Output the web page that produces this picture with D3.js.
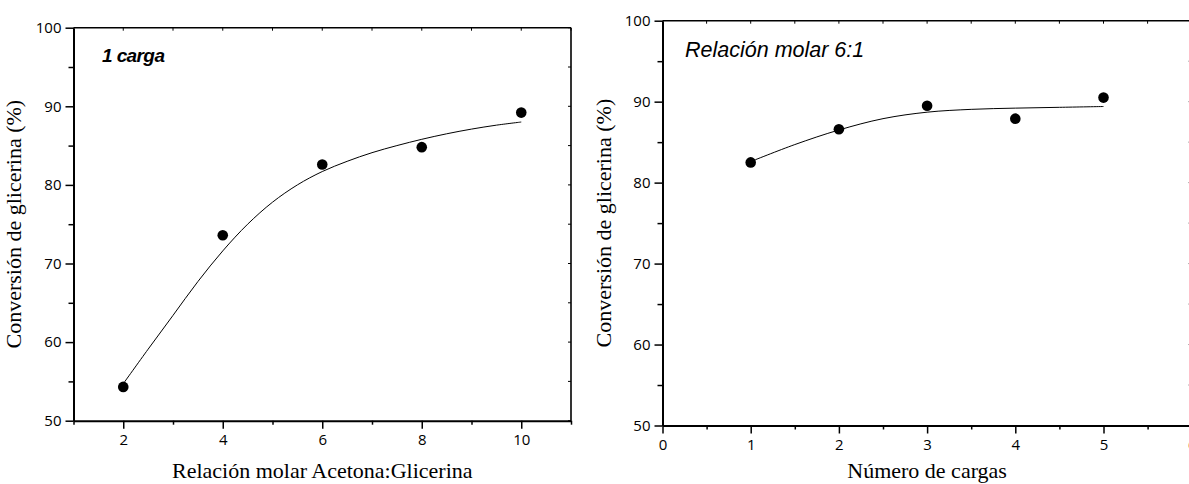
<!DOCTYPE html>
<html>
<head>
<meta charset="utf-8">
<script src="https://cdn.jsdelivr.net/npm/d3@7"></script>
<style>
  body { margin: 0; background: #fff; }
  svg { display: block; }
  .domain, .tick line { stroke: #000; }
  .title { font-family: "Liberation Serif", "Times New Roman", serif; font-size: 22px; fill: #000; }
</style>
</head>
<body>
<svg id="chart" width="1189" height="484"></svg>
<script>
// left panel: conversion vs molar ratio (1 load)
const ratioX = [2, 4, 6, 8, 10];
const ratioY = [54.3, 73.6, 82.6, 84.8, 89.2];
// fitted curve
const ratioFitX = [2, 2.5, 3, 3.5, 4, 4.5, 5, 5.5, 6, 6.5, 7, 7.5, 8, 8.5, 9, 9.5, 10];
const ratioFitY = [54.7, 59.1, 63.4, 67.7, 71.6, 75.0, 77.8, 80.0, 81.7, 83.0, 84.1, 85.0, 85.8, 86.5, 87.1, 87.6, 88.0];

// right panel: conversion vs number of loads (ratio 6:1)
const loadsX = [1, 2, 3, 4, 5];
const loadsY = [82.5, 86.6, 89.5, 87.9, 90.5];
const loadsFitX = [1, 1.5, 2, 2.5, 3, 3.5, 4, 4.5, 5];
const loadsFitY = [82.6, 84.7, 86.5, 87.9, 88.7, 89.05, 89.2, 89.3, 89.4];

const yTicks = [50, 60, 70, 80, 90, 100];
const yMinor = [55, 65, 75, 85, 95];
const ratioTicks = [2, 4, 6, 8, 10];
const ratioMinor = [1, 3, 5, 7, 9, 11];
const loadsTicks = [0, 1, 2, 3, 4, 5, 6];
const loadsMinor = [0.5, 1.5, 2.5, 3.5, 4.5, 5.5];

const svg = d3.select('#chart');

function panel(opt) {
  const x = d3.scaleLinear().domain(opt.xDomain).range(opt.xRange);
  const y = d3.scaleLinear().domain([50, 100]).range(opt.yRange);
  const g = svg.append('g');
  const [x0, x1] = opt.xRange;
  const [yb, yt] = opt.yRange;

  // frame top + right with small inward ticks
  g.append('line').attr('x1', x0).attr('x2', x1).attr('y1', yt).attr('y2', yt)
    .attr('stroke', '#000').attr('stroke-width', 1.6);
  g.append('line').attr('x1', x1).attr('x2', x1).attr('y1', yt).attr('y2', yb)
    .attr('stroke', '#000').attr('stroke-width', 1.6);
  g.selectAll('.ttick').data(opt.xTicks.concat(opt.xMinor)).enter().append('line')
    .attr('x1', d => x(d)).attr('x2', d => x(d)).attr('y1', yt).attr('y2', yt + 3)
    .attr('stroke', '#000').attr('stroke-width', 1);
  g.selectAll('.rtick').data(yTicks.concat(yMinor)).enter().append('line')
    .attr('x1', x1).attr('x2', x1 - 3).attr('y1', d => y(d)).attr('y2', d => y(d))
    .attr('stroke', '#000').attr('stroke-width', 1);

  // minor ticks
  g.append('g').attr('transform', `translate(0,${yb})`)
    .call(d3.axisBottom(x).tickValues(opt.xMinor).tickSize(4).tickFormat(''))
    .call(a => a.select('.domain').remove())
    .selectAll('line').attr('stroke-width', 1.5);
  g.append('g').attr('transform', `translate(${x0},0)`)
    .call(d3.axisLeft(y).tickValues(yMinor).tickSize(5).tickFormat(''))
    .call(a => a.select('.domain').remove())
    .selectAll('line').attr('stroke-width', 1.5);

  // major axes
  const xa = g.append('g').attr('transform', `translate(0,${yb})`)
    .call(d3.axisBottom(x).tickValues(opt.xTicks).tickFormat(d3.format('d'))
      .tickSize(8).tickSizeOuter(0).tickPadding(6));
  const ya = g.append('g').attr('transform', `translate(${x0},0)`)
    .call(d3.axisLeft(y).tickValues(yTicks).tickFormat(d3.format('d'))
      .tickSize(8).tickSizeOuter(0).tickPadding(4));
  [xa, ya].forEach(a => {
    a.attr('font-family', 'Open Sans, sans-serif').attr('font-size', 15);
    a.selectAll('.tick text').attr('fill', '#000');
    a.select('.domain').attr('stroke-width', 2);
    a.selectAll('.tick line').attr('stroke-width', 1.5);
  });

  // fit line
  const line = d3.line().x(d => x(d[0])).y(d => y(d[1])).curve(d3.curveCatmullRom);
  g.append('path').datum(d3.zip(opt.fitX, opt.fitY))
    .attr('d', line).attr('fill', 'none').attr('stroke', '#000').attr('stroke-width', 1);

  // points
  g.selectAll('circle').data(d3.zip(opt.px, opt.py)).enter().append('circle')
    .attr('cx', d => x(d[0])).attr('cy', d => y(d[1])).attr('r', 5.3).attr('fill', '#000');

  // titles
  g.append('text').attr('class', 'title').attr('text-anchor', 'middle')
    .attr('x', (x0 + x1) / 2).attr('y', opt.xTitleY).text(opt.xTitle);
  g.append('text').attr('class', 'title').attr('text-anchor', 'middle')
    .attr('transform', `translate(${opt.yTitleX},${(yb + yt) / 2}) rotate(-90)`)
    .text('Conversión de glicerina (%)');

  g.append('text').attr('x', opt.noteX).attr('y', opt.noteY)
    .attr('font-family', 'Liberation Sans, Arial, sans-serif')
    .attr('font-style', 'italic').attr('font-weight', opt.noteWeight)
    .attr('font-size', opt.noteSize).attr('letter-spacing', opt.noteSpacing)
    .text(opt.note);
}

panel({
  xDomain: [1, 11], xRange: [73.5, 571], yRange: [420.7, 27.7],
  xTicks: ratioTicks, xMinor: ratioMinor,
  px: ratioX, py: ratioY, fitX: ratioFitX, fitY: ratioFitY,
  xTitle: 'Relación molar Acetona:Glicerina', xTitleY: 478, yTitleX: 21,
  note: '1 carga', noteX: 102, noteY: 62, noteWeight: 'bold', noteSize: 19, noteSpacing: -0.6
});

panel({
  xDomain: [0, 6], xRange: [662.5, 1191.7], yRange: [425.5, 20.7],
  xTicks: loadsTicks, xMinor: loadsMinor,
  px: loadsX, py: loadsY, fitX: loadsFitX, fitY: loadsFitY,
  xTitle: 'Número de cargas', xTitleY: 478, yTitleX: 611,
  note: 'Relación molar 6:1', noteX: 685, noteY: 57, noteWeight: 'normal', noteSize: 21.5, noteSpacing: 0
});
</script>
</body>
</html>
